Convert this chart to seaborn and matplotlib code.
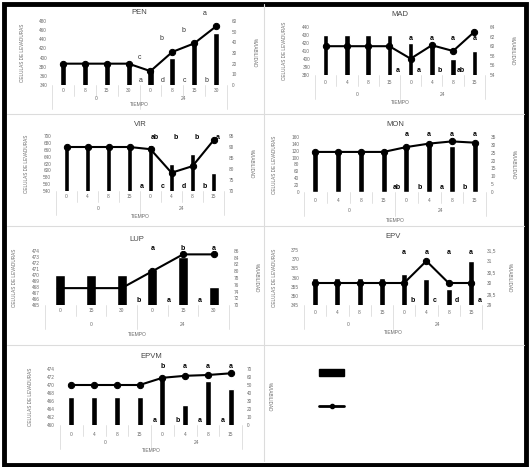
import numpy as np
import pandas as pd
import seaborn as sns
import matplotlib.pyplot as plt
from matplotlib.lines import Line2D
from matplotlib.patches import Patch, Rectangle

W, H = 530, 467

# ---- datos ----
pen_tiempo = ['0', '8', '15', '30', '0', '8', '15', '30']
pen_celulas = [387, 387, 387, 387, 376, 398, 432, 454]
pen_viab = [20, 20, 20, 20, 13, 31, 39, 55]
pen_sup = ['c', 'b', 'b', 'a']
pen_inf = ['a', 'd', 'c', 'b']

mad_tiempo = ['0', '4', '8', '15', '0', '4', '8', '15']
mad_celulas = [430, 430, 430, 430, 420, 420, 400, 410]
mad_viab = [60, 60, 60, 60, 57.4, 60.2, 59, 63]
mad_sup = ['a', 'a', 'a', 'a']
mad_inf = ['a', 'a', 'b', 'ab']

vir_tiempo = ['0', '4', '8', '15', '0', '4', '8', '15']
vir_celulas = [678, 678, 678, 678, 675, 620, 649, 591]
vir_viab = [90, 90, 90, 90, 89, 78.3, 81.3, 93]
vir_sup = ['ab', 'b', 'b', 'a']
vir_inf = ['a', 'c', 'd', 'b']

mon_tiempo = ['0', '4', '8', '15', '0', '4', '8', '15']
mon_celulas = [118, 118, 118, 118, 133, 138, 133, 143]
mon_viab = [25.5, 25.5, 25.5, 25.5, 28.6, 30.8, 32.2, 31.4]
mon_sup = ['a', 'a', 'a', 'a']
mon_inf = ['ab', 'b', 'a', 'b']

lup_tiempo = ['0', '15', '30', '0', '15', '30']
lup_celulas = [470, 470, 470, 471, 473, 468]
lup_viab = [75, 75, 75, 80, 85, 85]
lup_sup = ['a', 'b', 'a']
lup_inf = ['b', 'a', 'a']

epv_tiempo = ['0', '4', '8', '15', '0', '4', '8', '15']
epv_celulas = [360, 360, 360, 360, 362, 359, 354, 369]
epv_viab = [30, 30, 30, 30, 30, 31, 30, 30]
epv_sup = ['a', 'a', 'a', 'a']
epv_inf = ['b', 'c', 'd', 'a']

epvm_tiempo = ['0', '4', '8', '15', '0', '4', '8', '15']
epvm_celulas = [467, 467, 467, 467, 471.7, 465, 471, 469]
epvm_viab = [50, 50, 50, 50, 59, 61.5, 62.5, 64.6]
epvm_sup = ['b', 'a', 'a', 'a']
epvm_inf = ['a', 'b', 'a', 'a']

grupos = ['0', '24']

# ---- configuracion de cada panel (posiciones en pixeles) ----
paneles = [
    dict(nombre='PEN', tiempo=pen_tiempo, celulas=pen_celulas, viab=pen_viab,
         sup=pen_sup, inf=pen_inf, izq=(340, 480, 20), der=(0, 60, 10),
         caja=(52, 21, 227, 85), sup_y=None, sup_dx=-0.5, inf_dx=-0.43,
         tabla=(6, 14, 20), titulo_px=8, negrita=False, ancho=0.28),
    dict(nombre='MAD', tiempo=mad_tiempo, celulas=mad_celulas, viab=mad_viab,
         sup=mad_sup, inf=mad_inf, izq=(380, 440, 10), der=(54, 64, 2),
         caja=(315, 27, 485, 75), sup_y=0.75, sup_dx=0.0, inf_dx=-0.62,
         tabla=(7, 19, 28), titulo_px=12, negrita=True, ancho=0.25),
    dict(nombre='VIR', tiempo=vir_tiempo, celulas=vir_celulas, viab=vir_viab,
         sup=vir_sup, inf=vir_inf, izq=(540, 700, 20), der=(70, 95, 5),
         caja=(56, 136, 224, 191), sup_y=0.98, sup_dx=0.2, inf_dx=-0.42,
         tabla=(6, 18, 25), titulo_px=12, negrita=True, ancho=0.28),
    dict(nombre='MON', tiempo=mon_tiempo, celulas=mon_celulas, viab=mon_viab,
         sup=mon_sup, inf=mon_inf, izq=(0, 160, 20), der=(0, 35, 5),
         caja=(304, 137, 486, 192), sup_y=1.04, sup_dx=0.0, inf_dx=-0.43,
         tabla=(8, 19, 28), titulo_px=13, negrita=True, ancho=0.27),
    dict(nombre='LUP', tiempo=lup_tiempo, celulas=lup_celulas, viab=lup_viab,
         sup=lup_sup, inf=lup_inf, izq=(465, 474, 1), der=(70, 86, 2),
         caja=(45, 251, 229, 305), sup_y=1.05, sup_dx=0.0, inf_dx=-0.46,
         tabla=(5, 20, 29), titulo_px=12, negrita=True, ancho=0.33),
    dict(nombre='EPV', tiempo=epv_tiempo, celulas=epv_celulas, viab=epv_viab,
         sup=epv_sup, inf=epv_inf, izq=(345, 375, 5), der=(29, 31.5, 0.5),
         caja=(304, 250, 482, 305), sup_y=0.95, sup_dx=0.0, inf_dx=0.38,
         tabla=(7, 19, 28), titulo_px=14, negrita=True, ancho=0.28),
    dict(nombre='EPVM', tiempo=epvm_tiempo, celulas=epvm_celulas, viab=epvm_viab,
         sup=epvm_sup, inf=epvm_inf, izq=(460, 474, 2), der=(0, 70, 10),
         caja=(60, 369, 242, 425), sup_y=1.05, sup_dx=0.0, inf_dx=-0.35,
         tabla=(9, 18, 25), titulo_px=12, negrita=True, ancho=0.27),
]

sns.set_style('white')
plt.rcParams['font.family'] = ['Liberation Sans', 'DejaVu Sans']

GRIS_TXT = '#6a6a6a'
GRIS_LIN = '#dcdcdc'


def formato(v):
    s = ('%g' % v)
    return s.replace('.', ',')


def dibujar_panel(fig, p):
    l, t, r, b = p['caja']
    w_px, h_px = r - l, b - t
    ax = fig.add_axes([l / W, 1 - b / H, w_px / W, h_px / H])
    n = len(p['tiempo'])
    df = pd.DataFrame({'pos': np.arange(n), 'celulas': p['celulas'], 'viab': p['viab']})

    sns.barplot(data=df, x='pos', y='celulas', color='black', saturation=1,
                width=p['ancho'], ax=ax)
    ax.set_xlim(-0.5, n - 0.5)
    y0, y1, dy = p['izq']
    ax.set_ylim(y0, y1)
    ax.set_yticks(np.arange(y0, y1 + dy / 2, dy))
    ax.set_yticklabels([formato(v) for v in np.arange(y0, y1 + dy / 2, dy)])

    ax2 = ax.twinx()
    sns.lineplot(data=df, x='pos', y='viab', color='black', marker='o',
                 markersize=4.5, markeredgecolor='black', linewidth=1.5, ax=ax2)
    z0, z1, dz = p['der']
    ax2.set_ylim(z0, z1)
    ax2.set_yticks(np.arange(z0, z1 + dz / 2, dz))
    ax2.set_yticklabels([formato(v) for v in np.arange(z0, z1 + dz / 2, dz)])
    ax2.set_xlim(-0.5, n - 0.5)

    for a in (ax, ax2):
        for s in a.spines.values():
            s.set_visible(False)
        a.set_xticks([])
        a.set_xlabel('')
        a.set_ylabel('')
        a.tick_params(axis='y', length=0, labelsize=3.4, colors=GRIS_TXT, pad=3.5)

    # titulo y etiquetas de ejes
    ax.text(0.5, 1 + p['titulo_px'] / h_px, p['nombre'], transform=ax.transAxes,
            ha='center', va='center', fontsize=5.5, color='#444444')
    ax.text(-30 / w_px, 0.5, 'CELULAS DE LEVADURAS', transform=ax.transAxes,
            rotation=90, ha='center', va='center', fontsize=3.3, color=GRIS_TXT)
    ax.text(1 + 27 / w_px, 0.5, '%VIABILIDAD', transform=ax.transAxes,
            rotation=270, ha='center', va='center', fontsize=3.3, color=GRIS_TXT)

    # tabla de categorias bajo el eje
    tr = ax.get_xaxis_transform()
    f1, f2, f3 = p['tabla']
    mitad = n // 2
    for k in range(n + 1):
        largo = 24 if k in (0, mitad, n) else 11
        ax.plot([k - 0.5, k - 0.5], [0, -largo / h_px], transform=tr,
                clip_on=False, color=GRIS_LIN, lw=0.6)
    for i, lab in enumerate(p['tiempo']):
        ax.text(i, -f1 / h_px, lab, transform=tr, ha='center', va='center',
                fontsize=3.5, color=GRIS_TXT)
    ax.text((mitad - 1) / 2, -f2 / h_px, grupos[0], transform=tr, ha='center',
            va='center', fontsize=3.5, color=GRIS_TXT)
    ax.text(mitad + (n - mitad - 1) / 2, -f2 / h_px, grupos[1], transform=tr,
            ha='center', va='center', fontsize=3.5, color=GRIS_TXT)
    ax.text((n - 1) / 2, -f3 / h_px, 'TIEMPO', transform=tr, ha='center',
            va='center', fontsize=3.6, color=GRIS_TXT)

    # letras de significancia
    peso = 'bold' if p['negrita'] else 'normal'
    color = 'black' if p['negrita'] else '#333333'
    tr2 = ax2.get_xaxis_transform()
    for j, let in enumerate(p['sup']):
        i = mitad + j
        if p['sup_y'] is None:
            ax2.annotate(let, (i + p['sup_dx'], p['viab'][i]), xytext=(0, 7),
                         textcoords='offset points', ha='center', va='bottom',
                         fontsize=5, fontweight=peso, color=color, zorder=5)
        else:
            ax2.text(i + p['sup_dx'], p['sup_y'], let, transform=tr2,
                     ha='center', va='center', fontsize=5, fontweight=peso,
                     color=color, zorder=5)
    for j, let in enumerate(p['inf']):
        i = mitad + j
        ax2.text(i + p['inf_dx'], 0.02, let, transform=tr2, ha='center',
                 va='bottom', fontsize=5, fontweight=peso, color=color, zorder=5)


fig = plt.figure(figsize=(W / 100, H / 100), dpi=100)
fig.patch.set_facecolor('white')

for p in paneles:
    dibujar_panel(fig, p)


def lin(x0, y0, x1, y1):
    fig.add_artist(Line2D([x0 / W, x1 / W], [1 - y0 / H, 1 - y1 / H],
                          color=GRIS_LIN, lw=0.8))


# divisiones entre paneles
lin(264, 4, 264, 461)
for yy in (114, 226, 345):
    lin(7, yy, 524, yy)

# leyenda sin texto
handles = [Patch(facecolor='black', edgecolor='black'),
           Line2D([], [], color='black', lw=2, marker='o', markersize=3)]
fig.legend(handles=handles, labels=['', ''], loc='upper left',
           bbox_to_anchor=(314 / W, 1 - 363 / H), frameon=False, fontsize=7,
           handlelength=2.6, labelspacing=2.4, borderpad=0, handletextpad=0)

# marco negro exterior
fig.add_artist(Rectangle((4 / W, 2 / H), 522 / W, 461 / H, transform=fig.transFigure,
                         fill=False, edgecolor='black', lw=3.5))

fig.savefig('out.png', dpi=100)
